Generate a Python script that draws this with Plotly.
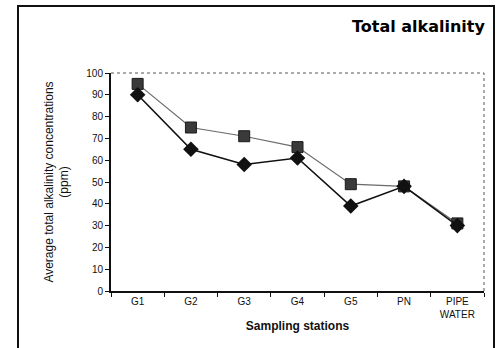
import plotly.graph_objects as go

# Sampling stations and average total alkalinity (ppm)
stations = ["G1", "G2", "G3", "G4", "G5", "PN", "PIPE<br>WATER"]
series_square = [95, 75, 71, 66, 49, 48, 31]
series_diamond = [90, 65, 58, 61, 39, 48, 30]
y_ticks = list(range(0, 101, 10))

W, H = 499, 348
L, R, T, B = 111, 484, 73, 291  # plot area in pixels

FONT = "Liberation Sans, Arial, sans-serif"


def px_x(x):
    return (x - L) / (R - L)


def px_y(y):
    return (B - y) / (B - T)


fig = go.Figure()

fig.add_trace(go.Scatter(
    x=stations, y=series_square, mode="lines+markers",
    line=dict(color="#6a6a6a", width=1.2),
    marker=dict(symbol="square", size=11, color="#3a3a3a",
                line=dict(color="#1a1a1a", width=1)),
    showlegend=False,
))
fig.add_trace(go.Scatter(
    x=stations, y=series_diamond, mode="lines+markers",
    line=dict(color="#111111", width=1.6),
    marker=dict(symbol="diamond", size=12, color="#111111"),
    showlegend=False,
))

shapes = [
    # outer chart frame
    dict(type="rect", xref="paper", yref="paper",
         x0=px_x(18), x1=px_x(494), y0=px_y(H + 5), y1=px_y(6),
         line=dict(color="#111111", width=2), fillcolor="rgba(0,0,0,0)",
         layer="below"),
    # dotted top and right edges of the plot area
    dict(type="line", xref="paper", yref="paper", x0=0, x1=1, y0=1, y1=1,
         line=dict(color="#555555", width=1, dash="dot")),
    dict(type="line", xref="paper", yref="paper", x0=1, x1=1, y0=0, y1=1,
         line=dict(color="#555555", width=1, dash="dot")),
]

annotations = [
    dict(text="<b>Total alkalinity</b>", xref="paper", yref="paper",
         x=px_x(487), y=px_y(27), xanchor="right", yanchor="middle",
         showarrow=False,
         font=dict(family="DejaVu Sans, sans-serif", size=16, color="#000000")),
]

fig.update_layout(
    width=W, height=H,
    margin=dict(l=L, r=W - R, t=T, b=H - B),
    paper_bgcolor="white", plot_bgcolor="white",
    font=dict(family=FONT, color="#111111"),
    shapes=shapes, annotations=annotations,
)

fig.update_xaxes(
    type="category", range=[-0.5, len(stations) - 0.5],
    showline=True, linecolor="#111111", linewidth=2,
    ticks="outside", tickson="boundaries", ticklen=4, tickcolor="#111111",
    tickfont=dict(family=FONT, size=10, color="#111111"),
    showgrid=False, zeroline=False,
    title=dict(text="<b>Sampling stations</b>", standoff=3,
               font=dict(family=FONT, size=12, color="#111111")),
)
fig.update_yaxes(
    range=[0, 100], tickvals=y_ticks,
    showline=True, linecolor="#111111", linewidth=2,
    ticks="outside", ticklen=4, tickcolor="#111111",
    tickfont=dict(family=FONT, size=10, color="#111111"),
    showgrid=False, zeroline=False,
    title=dict(text="Average total alkalinity concentrations<br>(ppm)",
               standoff=15, font=dict(family=FONT, size=12, color="#111111")),
)

fig.write_html("out.html")
